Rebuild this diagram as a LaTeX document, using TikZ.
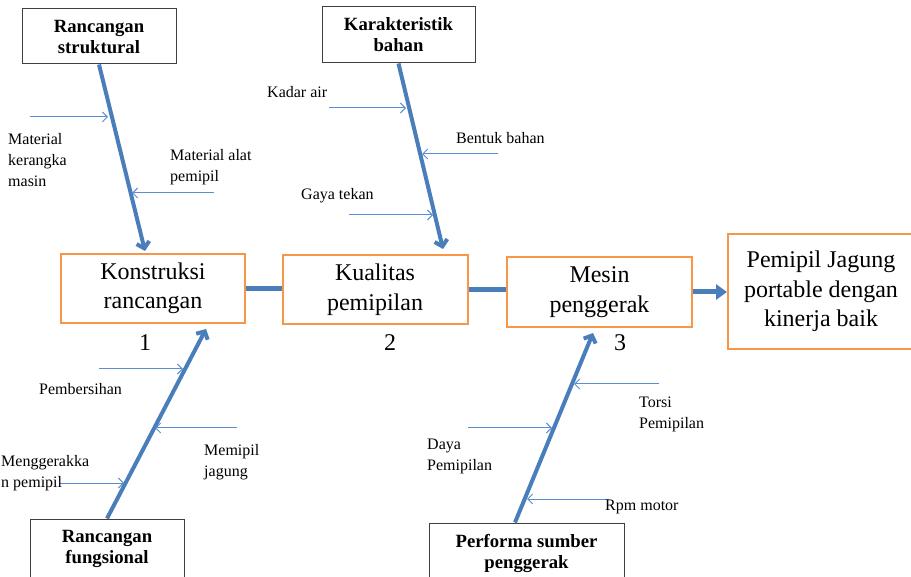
\documentclass[tikz,border=0pt]{standalone}
\usepackage{fontspec}
\setmainfont{Liberation Serif}
\usetikzlibrary{arrows.meta,calc}
\definecolor{spine}{HTML}{4A7EBB}
\definecolor{twig}{HTML}{5B8DD3}
\definecolor{orng}{HTML}{F79646}
\definecolor{bord}{HTML}{3F3F3F}
\begin{document}
\begin{tikzpicture}[x=1pt,y=-1pt,
 causebox/.style={draw=bord, line width=1pt, fill=white, align=center, inner sep=0pt, font=\fontsize{18.7}{21}\selectfont\bfseries},
 effbox/.style={draw=orng, line width=2pt, fill=white, align=center, inner sep=0pt, font=\fontsize{24}{29.5}\selectfont},
 lbl/.style={anchor=north west, inner sep=0pt, align=left, font=\fontsize{16}{21}\selectfont},
 num/.style={inner sep=0pt, font=\fontsize{24}{29}\selectfont},
 spinearr/.style={draw=spine, line width=4pt, -{Straight Barb[length=6pt,width=13pt]}},
 link/.style={draw=spine, line width=5pt},
 twigarr/.style={draw=twig, line width=1pt, -{Straight Barb[length=5pt,width=10pt]}}]
\useasboundingbox (0,0) rectangle (911,577);

% cause boxes
\node[causebox, minimum width=154pt, minimum height=55pt] (rs) at (99,36.5) {Rancangan\\struktural};
\node[causebox, minimum width=153pt, minimum height=56pt] (kb) at (398.5,35) {Karakteristik\\bahan};
\node[causebox, minimum width=154pt, minimum height=60pt] (rf) at (107,549) {Rancangan\\fungsional};
\node[causebox, minimum width=195pt, minimum height=60pt] (ps) at (526.5,553) {Performa sumber\\penggerak};

% effect boxes
\node[effbox, minimum width=184pt, minimum height=69pt] (kr) at (153,288.5) {Konstruksi\\rancangan};
\node[effbox, minimum width=185pt, minimum height=69pt] (kq) at (375,289.5) {Kualitas\\pemipilan};
\node[effbox, minimum width=185pt, minimum height=70pt] (mp) at (599.5,292) {Mesin\\penggerak};
\node[effbox, minimum width=186pt, minimum height=115pt] (pj) at (821,291.5) {Pemipil Jagung\\portable dengan\\kinerja baik};

% numbers
\node[num] (n1) at (145,343) {1};
\node[num] (n2) at (390,343) {2};
\node[num] (n3) at (620,343) {3};

% spines
\draw[spinearr] (rs.south) -- ($(kr.north)+(-8,-2)$);
\draw[spinearr] (kb.south) -- ($(kq.north)+(68,-5)$);
\draw[spinearr] (rf.north) -- ($(kr.south)+(53,5)$);
\draw[spinearr] ($(ps.north)+(-11.5,0)$) -- ($(mp.south)+(-6.5,5)$);

% links
\draw[link] (kr.east) -- (kq.west |- kr.east);
\draw[link] (kq.east) -- (mp.west |- kq.east);
\draw[link, -{Triangle[length=11pt,width=15pt]}] (mp.east) -- (pj.west |- mp.east);

% sub-cause arrows
\coordinate (a1) at (30,117);  \coordinate (b1) at (108,117);
\coordinate (a2) at (214,193); \coordinate (b2) at (132,193);
\coordinate (a3) at (329,108); \coordinate (b3) at (406,108);
\coordinate (a4) at (498,154); \coordinate (b4) at (422,154);
\coordinate (a5) at (349,215); \coordinate (b5) at (433,215);
\coordinate (a6) at (99,369);  \coordinate (b6) at (183,369);
\coordinate (a7) at (237,428); \coordinate (b7) at (155,428);
\coordinate (a8) at (60,483);  \coordinate (b8) at (124,483);
\coordinate (a9) at (659,384); \coordinate (b9) at (574,384);
\coordinate (a10) at (468,428); \coordinate (b10) at (552,428);
\coordinate (a11) at (609,499); \coordinate (b11) at (527,499);
\foreach \i in {1,...,11} { \draw[twigarr] (a\i) -- (b\i); }

% labels
\node[lbl] (l1) at (8,133) {Material\\kerangka\\masin};
\node[lbl] (l2) at (170,149) {Material alat\\pemipil};
\node[lbl] (l3) at (267,86) {Kadar air};
\node[lbl] (l4) at (456,132) {Bentuk bahan};
\node[lbl] (l5) at (301,188) {Gaya tekan};
\node[lbl] (l6) at (39,383) {Pembersihan};
\node[lbl] (l7) at (1,455) {Menggerakka\\n pemipil};
\node[lbl] (l8) at (204,444) {Memipil\\jagung};
\node[lbl] (l9) at (427,439) {Daya\\Pemipilan};
\node[lbl] (l10) at (639,397) {Torsi\\Pemipilan};
\node[lbl] (l11) at (605,500) {Rpm motor};
\end{tikzpicture}
\end{document}
